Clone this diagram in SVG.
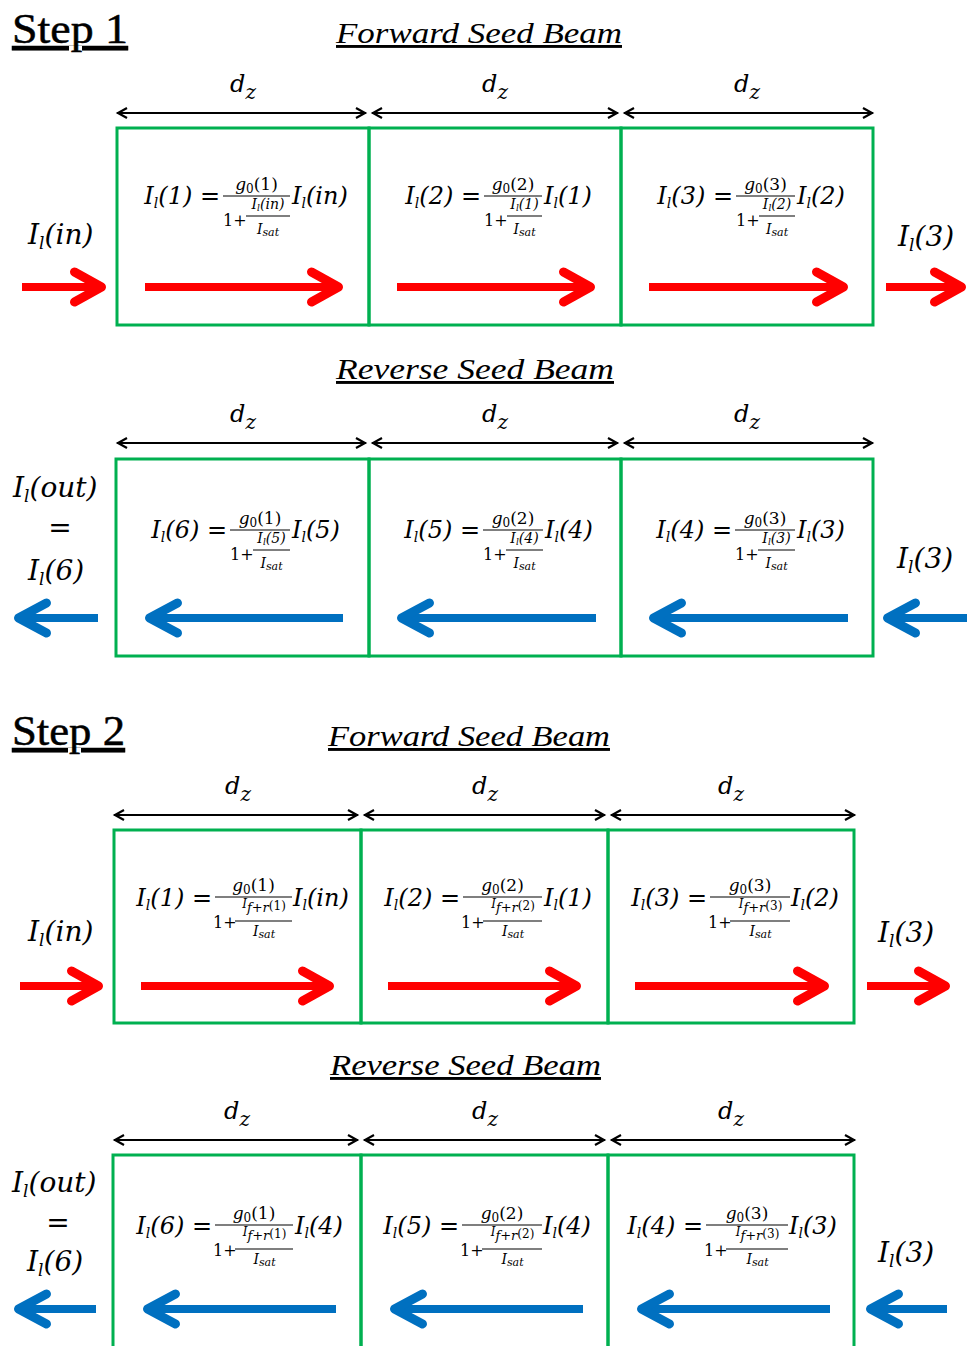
<svg xmlns="http://www.w3.org/2000/svg" width="968" height="1346" viewBox="0 0 968 1346">
  <style>
    .m { font-family: "DejaVu Serif", "Liberation Serif", serif; font-style: italic; fill: #000; }
    .up { font-family: "DejaVu Serif", "Liberation Serif", serif; font-style: normal; fill: #000; }
    .hd { font-family: "Liberation Serif", serif; font-size: 42px; text-decoration: underline; fill: #000; stroke: #000; stroke-width: 0.5; }
    .sh { font-family: "Liberation Serif", serif; font-style: italic; font-size: 29px; text-decoration: underline; fill: #000; }
    .box { fill: none; stroke: #00B050; stroke-width: 3; }
    .bar { stroke: #000; stroke-width: 1.2; }
    .dim { stroke: #000; stroke-width: 2; fill: none; marker-start: url(#dm); marker-end: url(#dm); }
    .ra { stroke: #FF0000; stroke-width: 8; marker-end: url(#hr); }
    .ba { stroke: #0070C0; stroke-width: 8; marker-end: url(#hb); }
  </style>
  <defs>
    <!-- open chevron for the dimension lines -->
    <marker id="dm" markerUnits="userSpaceOnUse" viewBox="-13 -8 15 16" refX="0" refY="0" markerWidth="15" markerHeight="16" orient="auto-start-reverse" overflow="visible">
      <path d="M-10,-5 L-1,0 L-10,5" fill="none" stroke="#000" stroke-width="2.2"/>
    </marker>
    <!-- thick chevron heads for the beam arrows -->
    <marker id="hr" markerUnits="userSpaceOnUse" viewBox="-40 -24 48 48" refX="-3.5" refY="0" markerWidth="48" markerHeight="48" orient="auto" overflow="visible">
      <path d="M-27,-15 L0,0 L-27,15" fill="none" stroke="#FF0000" stroke-width="9" stroke-linecap="round" stroke-linejoin="round"/>
    </marker>
    <marker id="hb" markerUnits="userSpaceOnUse" viewBox="-40 -24 48 48" refX="-3.5" refY="0" markerWidth="48" markerHeight="48" orient="auto" overflow="visible">
      <path d="M-28,-15 L0,0 L-28,15" fill="none" stroke="#0070C0" stroke-width="9" stroke-linecap="round" stroke-linejoin="round"/>
    </marker>
  </defs>

  <!-- headings -->
  <g id="headings">
    <text class="hd" x="12" y="43" textLength="116" lengthAdjust="spacingAndGlyphs">Step 1</text>
    <text class="sh" x="336" y="43" textLength="286" lengthAdjust="spacingAndGlyphs">Forward Seed Beam</text>
    <text class="sh" x="336" y="379" textLength="278" lengthAdjust="spacingAndGlyphs">Reverse Seed Beam</text>
    <text class="hd" x="12" y="745" textLength="113" lengthAdjust="spacingAndGlyphs">Step 2</text>
    <text class="sh" x="328" y="746" textLength="282" lengthAdjust="spacingAndGlyphs">Forward Seed Beam</text>
    <text class="sh" x="330" y="1075" textLength="271" lengthAdjust="spacingAndGlyphs">Reverse Seed Beam</text>
  </g>

  <!-- slice length labels -->
  <g id="dz-labels" class="m" font-size="24" text-anchor="middle">
    <text x="243" y="92">d<tspan font-size="20" dy="7">z</tspan></text>
    <text x="495" y="92">d<tspan font-size="20" dy="7">z</tspan></text>
    <text x="747" y="92">d<tspan font-size="20" dy="7">z</tspan></text>
    <text x="243" y="422">d<tspan font-size="20" dy="7">z</tspan></text>
    <text x="495" y="422">d<tspan font-size="20" dy="7">z</tspan></text>
    <text x="747" y="422">d<tspan font-size="20" dy="7">z</tspan></text>
    <text x="238" y="794">d<tspan font-size="20" dy="7">z</tspan></text>
    <text x="485" y="794">d<tspan font-size="20" dy="7">z</tspan></text>
    <text x="731" y="794">d<tspan font-size="20" dy="7">z</tspan></text>
    <text x="237" y="1119">d<tspan font-size="20" dy="7">z</tspan></text>
    <text x="485" y="1119">d<tspan font-size="20" dy="7">z</tspan></text>
    <text x="731" y="1119">d<tspan font-size="20" dy="7">z</tspan></text>
  </g>

  <!-- ===== Step 1, forward pass ===== -->
  <g id="s1f-cell1">
    <rect class="box" x="117" y="128" width="252" height="197"/>
    <g transform="translate(223,204)">
      <text class="m" x="-3" text-anchor="end" font-size="24">I<tspan font-size="14" dy="4">l</tspan><tspan dy="-4">(1) =</tspan></text>
      <line class="bar" x1="0" x2="67" y1="-8" y2="-8"/>
      <text class="m" x="33.5" y="-14" text-anchor="middle" font-size="17">g<tspan class="up" font-size="12" dy="3">0</tspan><tspan class="up" dy="-3">(1)</tspan></text>
      <text class="up" x="0" y="22" font-size="16">1+</text>
      <text class="m" x="45" y="5" text-anchor="middle" font-size="14">I<tspan font-size="9" dy="2">l</tspan><tspan dy="-2">(in)</tspan></text>
      <line class="bar" x1="23" x2="67" y1="12" y2="12"/>
      <text class="m" x="45" y="30" text-anchor="middle" font-size="14">I<tspan font-size="11" dy="2">sat</tspan></text>
      <text class="m" x="69" y="0" font-size="24">I<tspan font-size="14" dy="4">l</tspan><tspan dy="-4">(in)</tspan></text>
    </g>
  </g>
  <g id="s1f-cell2">
    <rect class="box" x="369" y="128" width="252" height="197"/>
    <g transform="translate(484,204)">
      <text class="m" x="-3" text-anchor="end" font-size="24">I<tspan font-size="14" dy="4">l</tspan><tspan dy="-4">(2) =</tspan></text>
      <line class="bar" x1="0" x2="58" y1="-8" y2="-8"/>
      <text class="m" x="29" y="-14" text-anchor="middle" font-size="17">g<tspan class="up" font-size="12" dy="3">0</tspan><tspan class="up" dy="-3">(2)</tspan></text>
      <text class="up" x="0" y="22" font-size="16">1+</text>
      <text class="m" x="40.5" y="5" text-anchor="middle" font-size="14">I<tspan font-size="9" dy="2">l</tspan><tspan dy="-2">(1)</tspan></text>
      <line class="bar" x1="23" x2="58" y1="12" y2="12"/>
      <text class="m" x="40.5" y="30" text-anchor="middle" font-size="14">I<tspan font-size="11" dy="2">sat</tspan></text>
      <text class="m" x="60" y="0" font-size="24">I<tspan font-size="14" dy="4">l</tspan><tspan dy="-4">(1)</tspan></text>
    </g>
  </g>
  <g id="s1f-cell3">
    <rect class="box" x="621" y="128" width="252" height="197"/>
    <g transform="translate(736,204)">
      <text class="m" x="-3" text-anchor="end" font-size="24">I<tspan font-size="14" dy="4">l</tspan><tspan dy="-4">(3) =</tspan></text>
      <line class="bar" x1="0" x2="59" y1="-8" y2="-8"/>
      <text class="m" x="29.5" y="-14" text-anchor="middle" font-size="17">g<tspan class="up" font-size="12" dy="3">0</tspan><tspan class="up" dy="-3">(3)</tspan></text>
      <text class="up" x="0" y="22" font-size="16">1+</text>
      <text class="m" x="41" y="5" text-anchor="middle" font-size="14">I<tspan font-size="9" dy="2">l</tspan><tspan dy="-2">(2)</tspan></text>
      <line class="bar" x1="23" x2="59" y1="12" y2="12"/>
      <text class="m" x="41" y="30" text-anchor="middle" font-size="14">I<tspan font-size="11" dy="2">sat</tspan></text>
      <text class="m" x="61" y="0" font-size="24">I<tspan font-size="14" dy="4">l</tspan><tspan dy="-4">(2)</tspan></text>
    </g>
  </g>
  <g id="s1f-in" class="m" font-size="28">
    <text x="28" y="244">I<tspan font-size="17" dy="5">l</tspan><tspan dy="-5">(in)</tspan></text>
  </g>
  <g id="s1f-out" class="m" font-size="28">
    <text x="898" y="246">I<tspan font-size="17" dy="5">l</tspan><tspan dy="-5">(3)</tspan></text>
  </g>

  <!-- ===== Step 1, reverse pass ===== -->
  <g id="s1r-cell1">
    <rect class="box" x="116" y="459" width="253" height="197"/>
    <g transform="translate(230,538)">
      <text class="m" x="-3" text-anchor="end" font-size="24">I<tspan font-size="14" dy="4">l</tspan><tspan dy="-4">(6) =</tspan></text>
      <line class="bar" x1="0" x2="60" y1="-8" y2="-8"/>
      <text class="m" x="30" y="-14" text-anchor="middle" font-size="17">g<tspan class="up" font-size="12" dy="3">0</tspan><tspan class="up" dy="-3">(1)</tspan></text>
      <text class="up" x="0" y="22" font-size="16">1+</text>
      <text class="m" x="41.5" y="5" text-anchor="middle" font-size="14">I<tspan font-size="9" dy="2">l</tspan><tspan dy="-2">(5)</tspan></text>
      <line class="bar" x1="23" x2="60" y1="12" y2="12"/>
      <text class="m" x="41.5" y="30" text-anchor="middle" font-size="14">I<tspan font-size="11" dy="2">sat</tspan></text>
      <text class="m" x="62" y="0" font-size="24">I<tspan font-size="14" dy="4">l</tspan><tspan dy="-4">(5)</tspan></text>
    </g>
  </g>
  <g id="s1r-cell2">
    <rect class="box" x="369" y="459" width="252" height="197"/>
    <g transform="translate(483,538)">
      <text class="m" x="-3" text-anchor="end" font-size="24">I<tspan font-size="14" dy="4">l</tspan><tspan dy="-4">(5) =</tspan></text>
      <line class="bar" x1="0" x2="60" y1="-8" y2="-8"/>
      <text class="m" x="30" y="-14" text-anchor="middle" font-size="17">g<tspan class="up" font-size="12" dy="3">0</tspan><tspan class="up" dy="-3">(2)</tspan></text>
      <text class="up" x="0" y="22" font-size="16">1+</text>
      <text class="m" x="41.5" y="5" text-anchor="middle" font-size="14">I<tspan font-size="9" dy="2">l</tspan><tspan dy="-2">(4)</tspan></text>
      <line class="bar" x1="23" x2="60" y1="12" y2="12"/>
      <text class="m" x="41.5" y="30" text-anchor="middle" font-size="14">I<tspan font-size="11" dy="2">sat</tspan></text>
      <text class="m" x="62" y="0" font-size="24">I<tspan font-size="14" dy="4">l</tspan><tspan dy="-4">(4)</tspan></text>
    </g>
  </g>
  <g id="s1r-cell3">
    <rect class="box" x="621" y="459" width="252" height="197"/>
    <g transform="translate(735,538)">
      <text class="m" x="-3" text-anchor="end" font-size="24">I<tspan font-size="14" dy="4">l</tspan><tspan dy="-4">(4) =</tspan></text>
      <line class="bar" x1="0" x2="60" y1="-8" y2="-8"/>
      <text class="m" x="30" y="-14" text-anchor="middle" font-size="17">g<tspan class="up" font-size="12" dy="3">0</tspan><tspan class="up" dy="-3">(3)</tspan></text>
      <text class="up" x="0" y="22" font-size="16">1+</text>
      <text class="m" x="41.5" y="5" text-anchor="middle" font-size="14">I<tspan font-size="9" dy="2">l</tspan><tspan dy="-2">(3)</tspan></text>
      <line class="bar" x1="23" x2="60" y1="12" y2="12"/>
      <text class="m" x="41.5" y="30" text-anchor="middle" font-size="14">I<tspan font-size="11" dy="2">sat</tspan></text>
      <text class="m" x="62" y="0" font-size="24">I<tspan font-size="14" dy="4">l</tspan><tspan dy="-4">(3)</tspan></text>
    </g>
  </g>
  <g id="s1r-out" class="m" font-size="28">
    <text x="13" y="497">I<tspan font-size="17" dy="5">l</tspan><tspan dy="-5">(out)</tspan></text>
    <text class="up" x="60" y="537" text-anchor="middle">=</text>
    <text x="28" y="580">I<tspan font-size="17" dy="5">l</tspan><tspan dy="-5">(6)</tspan></text>
  </g>
  <g id="s1r-in" class="m" font-size="28">
    <text x="897" y="568">I<tspan font-size="17" dy="5">l</tspan><tspan dy="-5">(3)</tspan></text>
  </g>

  <!-- ===== Step 2, forward pass ===== -->
  <g id="s2f-cell1">
    <rect class="box" x="114" y="830" width="247" height="193"/>
    <g transform="translate(215,906)">
      <text class="m" x="-3" text-anchor="end" font-size="24">I<tspan font-size="14" dy="4">l</tspan><tspan dy="-4">(1) =</tspan></text>
      <line class="bar" x1="0" x2="77" y1="-9" y2="-9"/>
      <text class="m" x="38.5" y="-15" text-anchor="middle" font-size="17">g<tspan class="up" font-size="12" dy="3">0</tspan><tspan class="up" dy="-3">(1)</tspan></text>
      <text class="up" x="-2" y="22" font-size="16">1+</text>
      <text class="m" x="49" y="2" text-anchor="middle" font-size="12">I<tspan font-size="13" dy="4">f+r</tspan><tspan class="up" font-size="12" dy="-2">(1)</tspan></text>
      <line class="bar" x1="20" x2="77" y1="15" y2="15"/>
      <text class="m" x="49" y="30" text-anchor="middle" font-size="14">I<tspan font-size="11" dy="2">sat</tspan></text>
      <text class="m" x="78" y="0" font-size="24">I<tspan font-size="14" dy="4">l</tspan><tspan dy="-4">(in)</tspan></text>
    </g>
  </g>
  <g id="s2f-cell2">
    <rect class="box" x="361" y="830" width="247" height="193"/>
    <g transform="translate(463,906)">
      <text class="m" x="-3" text-anchor="end" font-size="24">I<tspan font-size="14" dy="4">l</tspan><tspan dy="-4">(2) =</tspan></text>
      <line class="bar" x1="0" x2="79" y1="-9" y2="-9"/>
      <text class="m" x="39.5" y="-15" text-anchor="middle" font-size="17">g<tspan class="up" font-size="12" dy="3">0</tspan><tspan class="up" dy="-3">(2)</tspan></text>
      <text class="up" x="-2" y="22" font-size="16">1+</text>
      <text class="m" x="50" y="2" text-anchor="middle" font-size="12">I<tspan font-size="13" dy="4">f+r</tspan><tspan class="up" font-size="12" dy="-2">(2)</tspan></text>
      <line class="bar" x1="20" x2="79" y1="15" y2="15"/>
      <text class="m" x="50" y="30" text-anchor="middle" font-size="14">I<tspan font-size="11" dy="2">sat</tspan></text>
      <text class="m" x="81" y="0" font-size="24">I<tspan font-size="14" dy="4">l</tspan><tspan dy="-4">(1)</tspan></text>
    </g>
  </g>
  <g id="s2f-cell3">
    <rect class="box" x="608" y="830" width="246" height="193"/>
    <g transform="translate(710,906)">
      <text class="m" x="-3" text-anchor="end" font-size="24">I<tspan font-size="14" dy="4">l</tspan><tspan dy="-4">(3) =</tspan></text>
      <line class="bar" x1="0" x2="80" y1="-9" y2="-9"/>
      <text class="m" x="40" y="-15" text-anchor="middle" font-size="17">g<tspan class="up" font-size="12" dy="3">0</tspan><tspan class="up" dy="-3">(3)</tspan></text>
      <text class="up" x="-2" y="22" font-size="16">1+</text>
      <text class="m" x="50.5" y="2" text-anchor="middle" font-size="12">I<tspan font-size="13" dy="4">f+r</tspan><tspan class="up" font-size="12" dy="-2">(3)</tspan></text>
      <line class="bar" x1="20" x2="80" y1="15" y2="15"/>
      <text class="m" x="50.5" y="30" text-anchor="middle" font-size="14">I<tspan font-size="11" dy="2">sat</tspan></text>
      <text class="m" x="81" y="0" font-size="24">I<tspan font-size="14" dy="4">l</tspan><tspan dy="-4">(2)</tspan></text>
    </g>
  </g>
  <g id="s2f-in" class="m" font-size="28">
    <text x="28" y="941">I<tspan font-size="17" dy="5">l</tspan><tspan dy="-5">(in)</tspan></text>
  </g>
  <g id="s2f-out" class="m" font-size="28">
    <text x="878" y="942">I<tspan font-size="17" dy="5">l</tspan><tspan dy="-5">(3)</tspan></text>
  </g>

  <!-- ===== Step 2, reverse pass ===== -->
  <g id="s2r-cell1">
    <rect class="box" x="113" y="1155" width="248" height="200"/>
    <g transform="translate(215,1234)">
      <text class="m" x="-3" text-anchor="end" font-size="24">I<tspan font-size="14" dy="4">l</tspan><tspan dy="-4">(6) =</tspan></text>
      <line class="bar" x1="0" x2="78" y1="-9" y2="-9"/>
      <text class="m" x="39" y="-15" text-anchor="middle" font-size="17">g<tspan class="up" font-size="12" dy="3">0</tspan><tspan class="up" dy="-3">(1)</tspan></text>
      <text class="up" x="-2" y="22" font-size="16">1+</text>
      <text class="m" x="49.5" y="2" text-anchor="middle" font-size="12">I<tspan font-size="13" dy="4">f+r</tspan><tspan class="up" font-size="12" dy="-2">(1)</tspan></text>
      <line class="bar" x1="20" x2="78" y1="15" y2="15"/>
      <text class="m" x="49.5" y="30" text-anchor="middle" font-size="14">I<tspan font-size="11" dy="2">sat</tspan></text>
      <text class="m" x="80" y="0" font-size="24">I<tspan font-size="14" dy="4">l</tspan><tspan dy="-4">(4)</tspan></text>
    </g>
  </g>
  <g id="s2r-cell2">
    <rect class="box" x="361" y="1155" width="247" height="200"/>
    <g transform="translate(462,1234)">
      <text class="m" x="-3" text-anchor="end" font-size="24">I<tspan font-size="14" dy="4">l</tspan><tspan dy="-4">(5) =</tspan></text>
      <line class="bar" x1="0" x2="80" y1="-9" y2="-9"/>
      <text class="m" x="40" y="-15" text-anchor="middle" font-size="17">g<tspan class="up" font-size="12" dy="3">0</tspan><tspan class="up" dy="-3">(2)</tspan></text>
      <text class="up" x="-2" y="22" font-size="16">1+</text>
      <text class="m" x="50.5" y="2" text-anchor="middle" font-size="12">I<tspan font-size="13" dy="4">f+r</tspan><tspan class="up" font-size="12" dy="-2">(2)</tspan></text>
      <line class="bar" x1="20" x2="80" y1="15" y2="15"/>
      <text class="m" x="50.5" y="30" text-anchor="middle" font-size="14">I<tspan font-size="11" dy="2">sat</tspan></text>
      <text class="m" x="81" y="0" font-size="24">I<tspan font-size="14" dy="4">l</tspan><tspan dy="-4">(4)</tspan></text>
    </g>
  </g>
  <g id="s2r-cell3">
    <rect class="box" x="608" y="1155" width="246" height="200"/>
    <g transform="translate(706,1234)">
      <text class="m" x="-3" text-anchor="end" font-size="24">I<tspan font-size="14" dy="4">l</tspan><tspan dy="-4">(4) =</tspan></text>
      <line class="bar" x1="0" x2="82" y1="-9" y2="-9"/>
      <text class="m" x="41" y="-15" text-anchor="middle" font-size="17">g<tspan class="up" font-size="12" dy="3">0</tspan><tspan class="up" dy="-3">(3)</tspan></text>
      <text class="up" x="-2" y="22" font-size="16">1+</text>
      <text class="m" x="51.5" y="2" text-anchor="middle" font-size="12">I<tspan font-size="13" dy="4">f+r</tspan><tspan class="up" font-size="12" dy="-2">(3)</tspan></text>
      <line class="bar" x1="20" x2="82" y1="15" y2="15"/>
      <text class="m" x="51.5" y="30" text-anchor="middle" font-size="14">I<tspan font-size="11" dy="2">sat</tspan></text>
      <text class="m" x="83" y="0" font-size="24">I<tspan font-size="14" dy="4">l</tspan><tspan dy="-4">(3)</tspan></text>
    </g>
  </g>
  <g id="s2r-out" class="m" font-size="28">
    <text x="12" y="1192">I<tspan font-size="17" dy="5">l</tspan><tspan dy="-5">(out)</tspan></text>
    <text class="up" x="58" y="1232" text-anchor="middle">=</text>
    <text x="27" y="1271">I<tspan font-size="17" dy="5">l</tspan><tspan dy="-5">(6)</tspan></text>
  </g>
  <g id="s2r-in" class="m" font-size="28">
    <text x="878" y="1262">I<tspan font-size="17" dy="5">l</tspan><tspan dy="-5">(3)</tspan></text>
  </g>

  <!-- connectors: dimension lines and beam arrows -->
  <g id="connectors">
    <!-- dimension lines -->
    <line class="dim" x1="117" y1="113" x2="366" y2="113"/>
    <line class="dim" x1="372" y1="113" x2="618" y2="113"/>
    <line class="dim" x1="624" y1="113" x2="873" y2="113"/>
    <line class="dim" x1="117" y1="443" x2="366" y2="443"/>
    <line class="dim" x1="372" y1="443" x2="618" y2="443"/>
    <line class="dim" x1="624" y1="443" x2="873" y2="443"/>
    <line class="dim" x1="114" y1="815" x2="358" y2="815"/>
    <line class="dim" x1="364" y1="815" x2="605" y2="815"/>
    <line class="dim" x1="611" y1="815" x2="855" y2="815"/>
    <line class="dim" x1="114" y1="1140" x2="358" y2="1140"/>
    <line class="dim" x1="364" y1="1140" x2="605" y2="1140"/>
    <line class="dim" x1="611" y1="1140" x2="855" y2="1140"/>

    <!-- step 1 forward (red, pointing right) -->
    <line class="ra" x1="22" y1="287" x2="98" y2="287"/>
    <line class="ra" x1="145" y1="287" x2="335" y2="287"/>
    <line class="ra" x1="397" y1="287" x2="587" y2="287"/>
    <line class="ra" x1="649" y1="287" x2="840" y2="287"/>
    <line class="ra" x1="886" y1="287" x2="958" y2="287"/>

    <!-- step 1 reverse (blue, pointing left) -->
    <line class="ba" x1="98" y1="618" x2="22" y2="618"/>
    <line class="ba" x1="343" y1="618" x2="153" y2="618"/>
    <line class="ba" x1="596" y1="618" x2="405" y2="618"/>
    <line class="ba" x1="848" y1="618" x2="657" y2="618"/>
    <line class="ba" x1="967" y1="618" x2="891" y2="618"/>

    <!-- step 2 forward (red, pointing right) -->
    <line class="ra" x1="20" y1="986" x2="95" y2="986"/>
    <line class="ra" x1="141" y1="986" x2="326" y2="986"/>
    <line class="ra" x1="388" y1="986" x2="573" y2="986"/>
    <line class="ra" x1="635" y1="986" x2="821" y2="986"/>
    <line class="ra" x1="867" y1="986" x2="942" y2="986"/>

    <!-- step 2 reverse (blue, pointing left) -->
    <line class="ba" x1="96" y1="1309" x2="22" y2="1309"/>
    <line class="ba" x1="336" y1="1309" x2="151" y2="1309"/>
    <line class="ba" x1="583" y1="1309" x2="398" y2="1309"/>
    <line class="ba" x1="830" y1="1309" x2="645" y2="1309"/>
    <line class="ba" x1="947" y1="1309" x2="874" y2="1309"/>
  </g>
</svg>
